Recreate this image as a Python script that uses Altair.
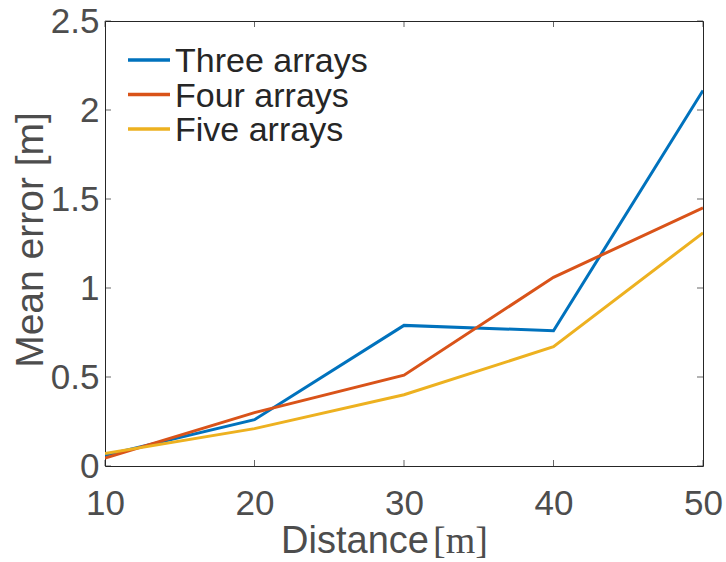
import altair as alt
import pandas as pd

# Mean localisation error versus source distance for three array configurations
distance = [10, 20, 30, 40, 50]
three_arrays = [0.06, 0.26, 0.79, 0.76, 2.11]
four_arrays = [0.045, 0.30, 0.51, 1.06, 1.45]
five_arrays = [0.07, 0.21, 0.40, 0.67, 1.31]

series_names = ["Three arrays", "Four arrays", "Five arrays"]
series_colors = ["#0072BD", "#D95319", "#EDB120"]

x_ticks = [10, 20, 30, 40, 50]
y_ticks = [0, 0.5, 1, 1.5, 2, 2.5]

rows = []
for name, values in zip(series_names, [three_arrays, four_arrays, five_arrays]):
    for d, v in zip(distance, values):
        rows.append({"distance": d, "error": v, "series": name})
df = pd.DataFrame(rows)

W, H = 598, 445
FONT = "Liberation Sans"
GREY = "#4d4d4d"

x_scale = alt.Scale(domain=[10, 50], nice=False, zero=False)
y_scale = alt.Scale(domain=[0, 2.5], nice=False, zero=True)

lines = alt.Chart(df).mark_line(strokeWidth=3, clip=True).encode(
    x=alt.X("distance:Q", scale=x_scale, title=None,
            axis=alt.Axis(values=x_ticks, format="d", ticks=False, domain=False,
                          grid=False, labelFontSize=35, labelColor=GREY,
                          labelFont=FONT, labelPadding=20, labelFlush=False)),
    y=alt.Y("error:Q", scale=y_scale, title=None,
            axis=alt.Axis(values=y_ticks, format="~g", ticks=False, domain=False,
                          grid=False, labelFontSize=35, labelColor=GREY,
                          labelFont=FONT, labelPadding=6, labelFlush=False)),
    color=alt.Color("series:N",
                    scale=alt.Scale(domain=series_names, range=series_colors),
                    legend=None),
)

# inward-pointing ticks on all four sides of the box
xt = pd.DataFrame({"t": x_ticks})
yt = pd.DataFrame({"t": y_ticks})
tick_color = "#262626"

ticks_bottom = alt.Chart(xt).mark_tick(size=6, thickness=1, color=tick_color).encode(
    x=alt.X("t:Q", scale=x_scale), y=alt.value(H - 3))
ticks_top = alt.Chart(xt).mark_tick(size=6, thickness=1, color=tick_color).encode(
    x=alt.X("t:Q", scale=x_scale), y=alt.value(3))
ticks_left = alt.Chart(yt).mark_tick(size=6, thickness=1, color=tick_color).encode(
    y=alt.Y("t:Q", scale=y_scale), x=alt.value(3))
ticks_right = alt.Chart(yt).mark_tick(size=6, thickness=1, color=tick_color).encode(
    y=alt.Y("t:Q", scale=y_scale), x=alt.value(W - 3))

# legend in the upper-left corner of the axes
legend_layers = []
for i, (name, col) in enumerate(zip(series_names, series_colors)):
    yc = 39 + 34.5 * i
    entry = pd.DataFrame({"label": [name]})
    legend_layers.append(
        alt.Chart(entry).mark_rule(strokeWidth=3.5, color=col).encode(
            x=alt.value(23), x2=alt.value(65), y=alt.value(yc))
    )
    legend_layers.append(
        alt.Chart(entry).mark_text(font=FONT, fontSize=34, color="#262626",
                                   align="left", baseline="alphabetic").encode(
            text="label:N", x=alt.value(70), y=alt.value(yc + 12))
    )

x_title = alt.Chart(pd.DataFrame({"t": ["Distance"]})).mark_text(
    font=FONT, fontSize=38, color=GREY, align="center", baseline="alphabetic"
).encode(text="t:N", x=alt.value(250), y=alt.value(532))

x_unit = alt.Chart(pd.DataFrame({"t": ["[m]"]})).mark_text(
    font="Liberation Serif", fontSize=38, color=GREY,
    align="left", baseline="alphabetic"
).encode(text="t:N", x=alt.value(328), y=alt.value(532))

y_title = alt.Chart(pd.DataFrame({"t": ["Mean error [m]"]})).mark_text(
    font=FONT, fontSize=39, color=GREY, align="center", baseline="alphabetic", angle=270
).encode(text="t:N", x=alt.value(-62), y=alt.value(219))

chart = alt.layer(
    lines, ticks_bottom, ticks_top, ticks_left, ticks_right,
    *legend_layers, x_title, x_unit, y_title
).properties(
    width=W, height=H,
    autosize=alt.AutoSizeParams(type="none"),
    padding={"left": 105, "top": 21, "right": 23, "bottom": 96},
    background="white",
).configure_view(stroke="#262626", strokeWidth=1)

chart.save("out.html", embed_options={"renderer": "svg", "actions": False})
